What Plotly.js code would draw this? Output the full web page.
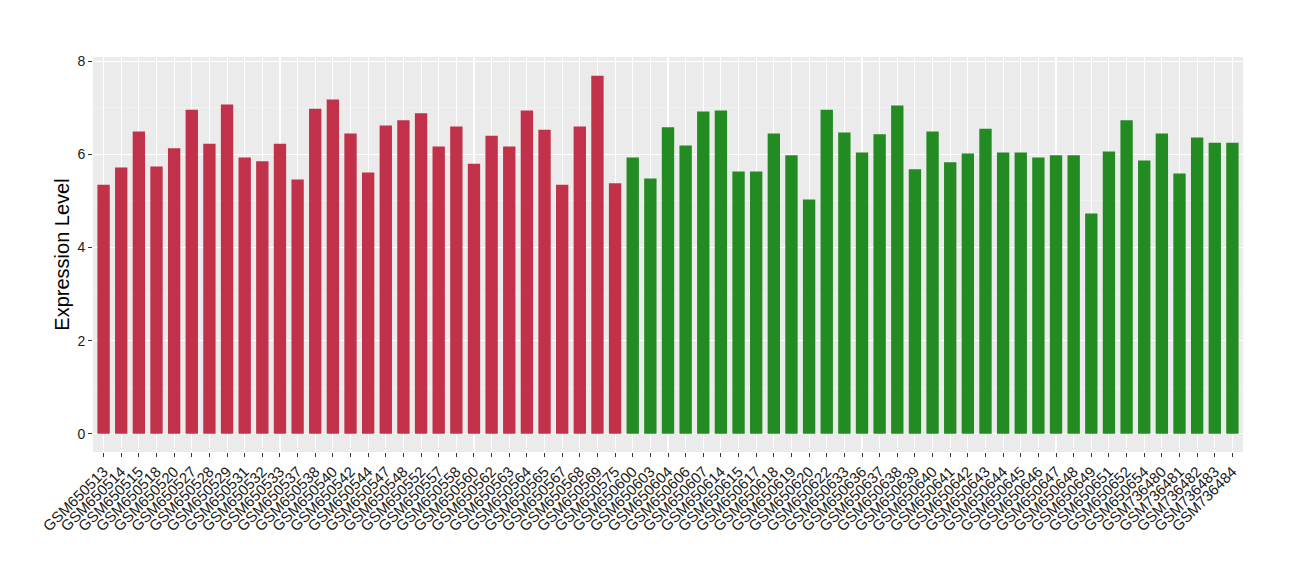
<!DOCTYPE html>
<html>
<head>
<meta charset="utf-8">
<script src="https://cdn.plot.ly/plotly-3.0.1.min.js"></script>
<style>html,body{margin:0;padding:0;background:#fff;}#chart{width:1300px;height:580px;}</style>
</head>
<body>
<div id="chart"></div>
<script>
const groupASamples = ["GSM650513","GSM650514","GSM650515","GSM650518","GSM650520","GSM650527","GSM650528","GSM650529","GSM650531","GSM650532","GSM650533","GSM650537","GSM650538","GSM650540","GSM650542","GSM650544","GSM650547","GSM650548","GSM650552","GSM650557","GSM650558","GSM650560","GSM650562","GSM650563","GSM650564","GSM650565","GSM650567","GSM650568","GSM650569","GSM650575"];
const groupAValues = [5.35,5.72,6.49,5.74,6.13,6.96,6.23,7.07,5.93,5.85,6.23,5.46,6.98,7.18,6.45,5.61,6.62,6.73,6.88,6.17,6.60,5.80,6.40,6.17,6.94,6.53,5.35,6.60,7.69,5.38];
const groupBSamples = ["GSM650600","GSM650603","GSM650604","GSM650606","GSM650607","GSM650614","GSM650615","GSM650617","GSM650618","GSM650619","GSM650620","GSM650622","GSM650633","GSM650636","GSM650637","GSM650638","GSM650639","GSM650640","GSM650641","GSM650642","GSM650643","GSM650644","GSM650645","GSM650646","GSM650647","GSM650648","GSM650649","GSM650651","GSM650652","GSM650654","GSM736480","GSM736481","GSM736482","GSM736483","GSM736484"];
const groupBValues = [5.93,5.48,6.58,6.19,6.92,6.94,5.63,5.63,6.45,5.98,5.03,6.96,6.47,6.04,6.43,7.05,5.68,6.49,5.83,6.02,6.55,6.04,6.04,5.93,5.98,5.98,4.73,6.06,6.73,5.87,6.45,5.59,6.36,6.25,6.25];
const yTicks = [0,2,4,6,8];

const allSamples = groupASamples.concat(groupBSamples);

const traces = [
  {type:'bar', x:groupASamples, y:groupAValues, marker:{color:'#C2314A'}, width:0.7, hoverinfo:'x+y', showlegend:false},
  {type:'bar', x:groupBSamples, y:groupBValues, marker:{color:'#228B22'}, width:0.7, hoverinfo:'x+y', showlegend:false}
];

const layout = {
  width:1300, height:580,
  paper_bgcolor:'#ffffff', plot_bgcolor:'#EBEBEB',
  margin:{l:93, r:57, t:57, b:128},
  font:{family:'Liberation Sans, Arial, sans-serif', color:'#1a1a1a'},
  barmode:'overlay',
  xaxis:{
    type:'category', categoryorder:'array', categoryarray:allSamples,
    tickmode:'array', tickvals:allSamples, ticktext:allSamples,
    range:[-0.6, allSamples.length-0.4],
    tickangle:-45, tickfont:{size:15, color:'#1a1a1a'},
    showgrid:true, gridcolor:'#ffffff', gridwidth:1.1,
    ticks:'outside', ticklen:4, tickcolor:'#333333', tickwidth:1,
    showline:false, zeroline:false, fixedrange:true, automargin:false
  },
  yaxis:{
    range:[-0.39, 8.09],
    tickvals:yTicks, ticktext:yTicks.map(String),
    tickfont:{size:14, color:'#1a1a1a'},
    showgrid:true, gridcolor:'#ffffff', gridwidth:1.1,
    minor:{tickvals:[1,3,5,7], showgrid:true, gridcolor:'#F5F5F5', gridwidth:0.6, ticks:''},
    ticks:'outside', ticklen:4, tickcolor:'#333333', tickwidth:1,
    zeroline:false, showline:false,
    title:{text:'Expression Level', font:{size:20, color:'#000000'}, standoff:2},
    fixedrange:true
  }
};

Plotly.newPlot('chart', traces, layout, {displayModeBar:false, staticPlot:true});
</script>
</body>
</html>
